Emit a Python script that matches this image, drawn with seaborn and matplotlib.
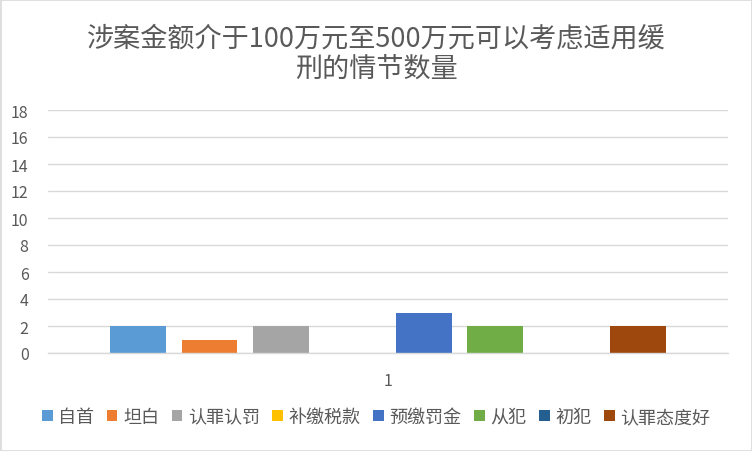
import matplotlib
matplotlib.use("Agg")
import matplotlib.pyplot as plt
import seaborn as sns
import pandas as pd
from matplotlib.patches import Patch, Rectangle

categories = ["1"]
series = ["自首", "坦白", "认罪认罚", "补缴税款", "预缴罚金", "从犯", "初犯", "认罪态度好"]
values = [2, 1, 2, 0, 3, 2, 0, 2]
colors = ["#5B9BD5", "#ED7D31", "#A5A5A5", "#FFC000", "#4472C4", "#70AD47", "#255E91", "#9E480E"]
yticks = [0, 2, 4, 6, 8, 10, 12, 14, 16, 18]
title = "涉案金额介于100万元至500万元可以考虑适用缓\n刑的情节数量"

sns.set_theme(style="white")
plt.rcParams['font.family'] = ['Noto Sans CJK SC', 'DejaVu Sans']

df = pd.DataFrame({"cat": categories * len(series), "series": series, "value": values})

fig = plt.figure(figsize=(7.52, 4.52), dpi=100)
ax = fig.add_axes([48/752, 1 - 354/452, 680/752, (354 - 111)/452])

sns.barplot(data=df, x="cat", y="value", hue="series", hue_order=series,
            palette=colors, width=0.84, gap=0.22, ax=ax, legend=False,
            saturation=1, edgecolor="none")

ax.set_ylim(0, 18)
ax.set_xlim(-0.5, 0.5)
ax.set_yticks(yticks)
ax.set_yticklabels([str(t) for t in yticks])
ax.yaxis.grid(True, color="#D9D9D9", linewidth=1)
ax.set_axisbelow(True)
for s in ["top", "right", "left"]:
    ax.spines[s].set_visible(False)
ax.spines["bottom"].set_color("#D9D9D9")
ax.spines["bottom"].set_linewidth(1)
ax.set_xlabel("")
ax.set_ylabel("")
ax.tick_params(axis="y", length=0, labelsize=11.5, labelcolor="#595959", pad=14)
ax.tick_params(axis="x", length=0, labelsize=11.5, labelcolor="#595959", pad=14)

fig.text(0.5, 1 - 54/452, title, ha="center", va="center", fontsize=19.5,
         color="#595959", linespacing=1.15)

handles = [Patch(facecolor=c, edgecolor="none") for c in colors]
fig.legend(handles, series, loc="center", bbox_to_anchor=(0.5, 1 - 418/452),
           ncol=len(series), frameon=False, fontsize=13, labelcolor="#595959",
           handlelength=0.6, handleheight=0.6, handletextpad=0.3, columnspacing=0.7)

fig.patches.append(Rectangle((0.5/752, 0.5/452), 1 - 1/752, 1 - 1/452,
                             transform=fig.transFigure, fill=False,
                             edgecolor="#D9D9D9", linewidth=1.2))

fig.savefig("out.png", dpi=100, facecolor="white")
